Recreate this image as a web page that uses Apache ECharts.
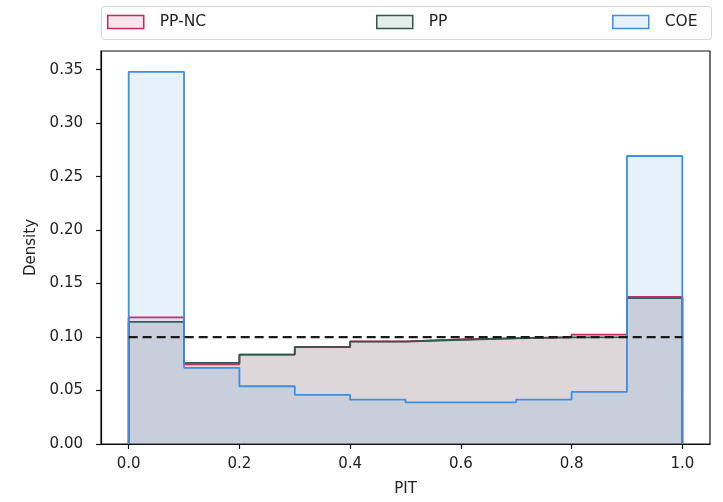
<!DOCTYPE html>
<html>
<head>
<meta charset="utf-8">
<script src="https://cdn.jsdelivr.net/npm/echarts@6/dist/echarts.min.js"></script>
<style>
html,body{margin:0;padding:0;background:#fff;}
#chart{width:723px;height:502px;}
</style>
</head>
<body>
<div id="chart"></div>
<script>
// Bin edges of the PIT histogram
var binEdges = [0.0, 0.1, 0.2, 0.3, 0.4, 0.5, 0.6, 0.7, 0.8, 0.9, 1.0];
// Density per bin
var ppncDensity = [0.1185, 0.0745, 0.0836, 0.0908, 0.0960, 0.0977, 0.0990, 0.1000, 0.1023, 0.1375];
var ppDensity   = [0.1142, 0.0758, 0.0836, 0.0905, 0.0958, 0.0975, 0.0988, 0.0998, 0.1000, 0.1365];
var coeDensity  = [0.3480, 0.0712, 0.0540, 0.0460, 0.0415, 0.0390, 0.0390, 0.0415, 0.0487, 0.2693];
// Uniform reference density
var uniformLevel = 0.1;
// Tick labels
var xTicks = [0.0, 0.2, 0.4, 0.6, 0.8, 1.0];
var yTicks = [0.00, 0.05, 0.10, 0.15, 0.20, 0.25, 0.30, 0.35];
var seriesNames = ['PP-NC', 'PP', 'COE'];

function stepData(vals) {
  var d = [[binEdges[0], 0]];
  for (var i = 0; i < vals.length; i++) d.push([binEdges[i], vals[i]]);
  d.push([binEdges[binEdges.length - 1], vals[vals.length - 1]]);
  d.push([binEdges[binEdges.length - 1], 0]);
  return d;
}

var edgeColors = ['#c9285f', '#2e5a4b', '#3d8fe0'];
var fillColors = ['rgba(214,40,100,0.12)', 'rgba(40,120,90,0.13)', 'rgba(60,145,230,0.13)'];
var font = 'DejaVu Sans';
var txt = '#222';

var chart = echarts.init(document.getElementById('chart'), null, {renderer: 'canvas'});

function mkLegend(i, left) {
  return {
    left: left, top: 14, padding: 0,
    icon: 'rect', itemWidth: 36, itemHeight: 13,
    textStyle: {fontFamily: font, fontSize: 15.5, color: txt, padding: [2, 0, 0, 11]},
    selectedMode: false,
    data: [{name: seriesNames[i], itemStyle: {color: fillColors[i], borderColor: edgeColors[i], borderWidth: 1.5}}]
  };
}

var allData = [ppncDensity, ppDensity, coeDensity];
var series = allData.map(function (vals, i) {
  return {
    name: seriesNames[i], type: 'line', step: 'end', symbol: 'none',
    data: stepData(vals),
    lineStyle: {color: edgeColors[i], width: 1.8},
    itemStyle: {color: edgeColors[i]},
    areaStyle: {color: fillColors[i], opacity: 1},
    z: 2 + i, animation: false
  };
});
series.push({
  name: 'uniform', type: 'line', symbol: 'none',
  data: [[binEdges[0], uniformLevel], [binEdges[binEdges.length - 1], uniformLevel]],
  lineStyle: {color: '#1a1a1a', width: 2.2, type: [9, 5]},
  z: 10, animation: false
});

chart.setOption({
  backgroundColor: '#fff',
  animation: false,
  graphic: [{
    type: 'rect', left: 101, top: 6, z: -1,
    shape: {width: 610, height: 33, r: 3},
    style: {fill: '#fff', stroke: '#d4d4d4', lineWidth: 1}
  }],
  legend: [mkLegend(0, 107), mkLegend(1, 376), mkLegend(2, 612)],
  grid: {left: 101, right: 13, top: 51, bottom: 56, show: true, borderColor: '#111', borderWidth: 1.2, backgroundColor: 'transparent'},
  xAxis: {
    type: 'value', min: -0.05, max: 1.05,
    name: 'PIT', nameLocation: 'middle', nameGap: 38,
    nameTextStyle: {fontFamily: font, fontSize: 15, color: txt},
    axisLine: {show: true, onZero: false, lineStyle: {color: '#111', width: 1.2}},
    axisTick: {show: true, length: 5, lineStyle: {color: '#111', width: 1.2}, customValues: xTicks},
    axisLabel: {fontFamily: font, fontSize: 15, color: txt, margin: 13, customValues: xTicks,
      formatter: function (v) { return v.toFixed(1); }},
    splitLine: {show: false}
  },
  yAxis: {
    type: 'value', min: 0, max: 0.3675,
    name: 'Density', nameLocation: 'middle', nameGap: 61,
    nameTextStyle: {fontFamily: font, fontSize: 15, color: txt},
    axisLine: {show: true, onZero: false, lineStyle: {color: '#111', width: 1.2}},
    axisTick: {show: true, length: 5, lineStyle: {color: '#111', width: 1.2}, customValues: yTicks},
    axisLabel: {fontFamily: font, fontSize: 15, color: txt, margin: 18, customValues: yTicks,
      formatter: function (v) { return v.toFixed(2); }},
    splitLine: {show: false}
  },
  series: series
});
</script>
</body>
</html>
